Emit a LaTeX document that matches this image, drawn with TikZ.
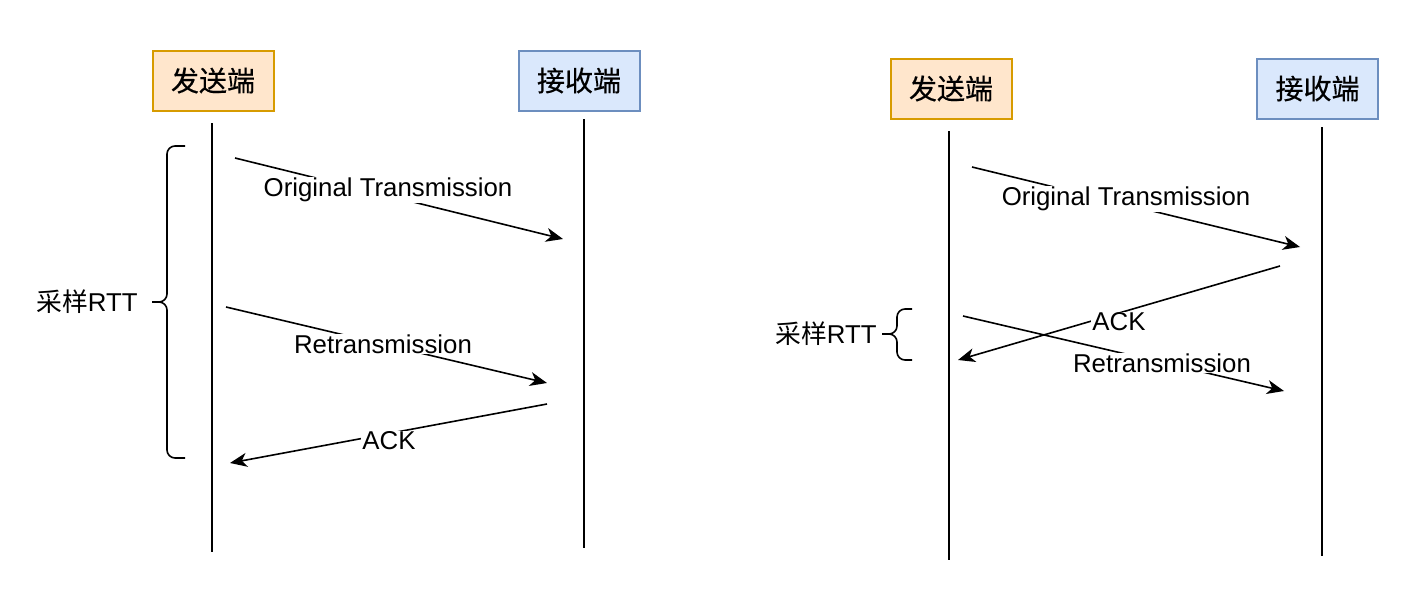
\documentclass[tikz,border=0pt]{standalone}
\usepackage{fontspec}
\setmainfont{Liberation Sans}
\newfontfamily\cjk{Noto Sans CJK SC}
\newfontfamily\cjkbox[FakeBold=0.4]{Noto Sans CJK SC}
\usetikzlibrary{arrows.meta}
\definecolor{senderfill}{HTML}{FFE6CC}
\definecolor{senderline}{HTML}{D79B00}
\definecolor{recvfill}{HTML}{DAE8FC}
\definecolor{recvline}{HTML}{6C8EBF}
\begin{document}
\begin{tikzpicture}[x=1pt,y=-1pt,
  actor/.style={line width=2pt,minimum width=121pt,minimum height=60pt,inner sep=0pt,font=\cjkbox\fontsize{28}{30}\selectfont},
  senderbox/.style={actor,draw=senderline,fill=senderfill},
  recvbox/.style={actor,draw=recvline,fill=recvfill},
  lifeline/.style={line width=2pt},
  msg/.style={line width=1.6pt,-{Stealth[length=17pt,width=14pt,inset=5pt]}},
  lbl/.style={fill=white,inner sep=1pt,font=\fontsize{25.8}{28}\selectfont},
  brace/.style={line width=1.6pt,rounded corners=8pt},
  bracelbl/.style={inner sep=0pt,font=\fontsize{25.8}{28}\selectfont}
]
\useasboundingbox[fill=white] (0,0) rectangle (1426,608);

% ---------- left diagram ----------
\node[senderbox] (ls) at (213,80.5) {发送端};
\node[recvbox] (lr) at (579,80.5) {接收端};
\coordinate (lstop) at (212,123);
\coordinate (lsbot) at (212,552);
\coordinate (lrtop) at (584,119);
\coordinate (lrbot) at (584,548);
\draw[lifeline] (lstop) -- (lsbot);
\draw[lifeline] (lrtop) -- (lrbot);

\coordinate (lo1) at (235,158);
\coordinate (lo2) at (563,239);
\draw[msg] (lo1) -- (lo2);
\node[lbl] (lol) at (388,190) {Original Transmission};

\coordinate (lt1) at (226,307);
\coordinate (lt2) at (547,383);
\draw[msg] (lt1) -- (lt2);
\node[lbl] (ltl) at (383,344) {Retransmission};

\coordinate (la1) at (547,404);
\coordinate (la2) at (230,463);
\draw[msg] (la1) -- (la2);
\node[lbl] (lal) at (389,441) {ACK};

\coordinate (lbtop) at (185,146);
\coordinate (lbbot) at (185,458);
\coordinate (lbtip) at (152,302);
\draw[brace] (lbtop) -- (167,146) -- (167,302) -- (lbtip);
\draw[brace] (lbbot) -- (167,458) -- (167,302) -- (lbtip);
\node[bracelbl] (lbl) at (87,302) {{\cjk 采样}RTT};

% ---------- right diagram ----------
\node[senderbox] (rs) at (951,88.5) {发送端};
\node[recvbox] (rr) at (1317.5,88.5) {接收端};
\coordinate (rstop) at (949,131);
\coordinate (rsbot) at (949,560);
\coordinate (rrtop) at (1322,127);
\coordinate (rrbot) at (1322,556);
\draw[lifeline] (rstop) -- (rsbot);
\draw[lifeline] (rrtop) -- (rrbot);

\coordinate (ro1) at (972,167);
\coordinate (ro2) at (1300,247);
\draw[msg] (ro1) -- (ro2);
\node[lbl] (rol) at (1126,199) {Original Transmission};

\coordinate (ra1) at (1280,266);
\coordinate (ra2) at (958,360);
\draw[msg] (ra1) -- (ra2);
\node[lbl] (ral) at (1119,322) {ACK};

\coordinate (rt1) at (963,316);
\coordinate (rt2) at (1284,391);
\draw[msg] (rt1) -- (rt2);
\node[lbl] (rtl) at (1162,363) {Retransmission};

\coordinate (rbtop) at (912,309);
\coordinate (rbbot) at (912,360);
\coordinate (rbtip) at (882,334);
\draw[brace] (rbtop) -- (897,309) -- (897,334) -- (rbtip);
\draw[brace] (rbbot) -- (897,360) -- (897,334) -- (rbtip);
\node[bracelbl] (rbl) at (826,334) {{\cjk 采样}RTT};
\end{tikzpicture}
\end{document}
